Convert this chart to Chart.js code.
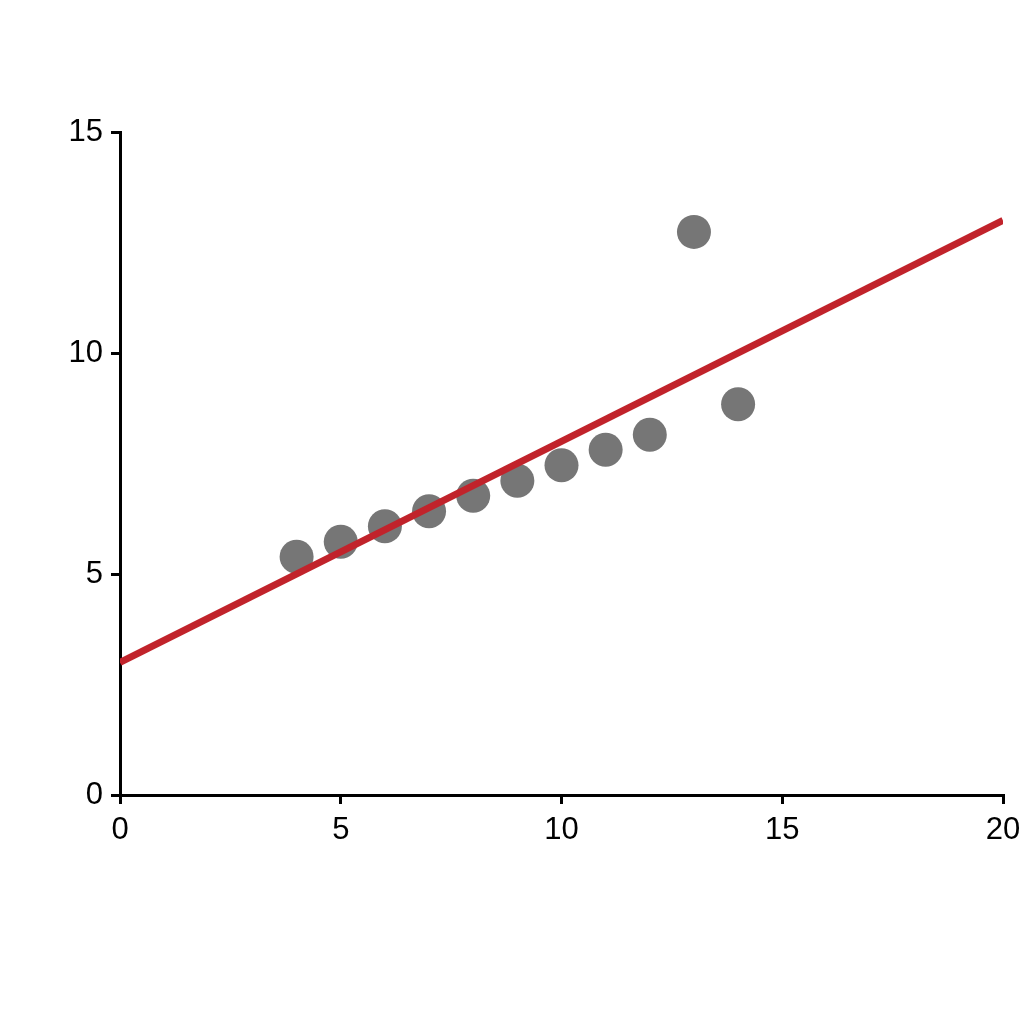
<!DOCTYPE html>
<html>
<head>
<meta charset="utf-8">
<script src="https://cdn.jsdelivr.net/npm/chart.js@4.4.1/dist/chart.umd.min.js"></script>
<style>
  html, body { margin: 0; padding: 0; background: #fff; }
  #chart { display: block; }
</style>
</head>
<body>
<canvas id="chart" width="1024" height="1024"></canvas>
<script>
// data points
const pointX = [4, 5, 6, 7, 8, 9, 10, 11, 12, 13, 14];
const pointY = [5.39, 5.73, 6.08, 6.42, 6.77, 7.11, 7.46, 7.81, 8.15, 12.74, 8.84];

// fitted line end points
const lineX = [0, 20];
const lineY = [3, 13];

const xTicks = [0, 5, 10, 15, 20];
const yTicks = [0, 5, 10, 15];

const ctx = document.getElementById('chart').getContext('2d');

const axisStyle = {
    grid: {
        drawOnChartArea: false,
        drawTicks: true,
        tickLength: 9,
        color: '#000',
        lineWidth: 3
    },
    border: { color: '#000', width: 3 },
    ticks: {
        color: '#000',
        font: { family: 'Liberation Sans, Arial, sans-serif', size: 31 },
        padding: 8
    }
};

new Chart(ctx, {
    type: 'scatter',
    data: {
        datasets: [
            {
                type: 'line',
                data: lineX.map((x, i) => ({ x: x, y: lineY[i] })),
                borderColor: '#c1232b',
                borderWidth: 7,
                pointRadius: 0,
                fill: false,
                order: 0
            },
            {
                data: pointX.map((x, i) => ({ x: x, y: pointY[i] })),
                backgroundColor: '#767676',
                borderWidth: 0,
                pointRadius: 17,
                order: 1
            }
        ]
    },
    options: {
        responsive: false,
        animation: false,
        layout: { padding: { left: 0, top: 132, right: 21, bottom: 0 } },
        plugins: {
            legend: { display: false },
            tooltip: { enabled: false }
        },
        scales: {
            x: {
                type: 'linear',
                min: 0,
                max: 20,
                ...axisStyle,
                afterBuildTicks: function(axis) {
                    axis.ticks = xTicks.map(v => ({ value: v }));
                },
                afterFit: function(axis) {
                    axis.height = 1024 - 795;
                    axis.paddingLeft = 0;
                    axis.paddingRight = 0;
                }
            },
            y: {
                type: 'linear',
                min: 0,
                max: 15,
                ...axisStyle,
                afterBuildTicks: function(axis) {
                    axis.ticks = yTicks.map(v => ({ value: v }));
                },
                afterFit: function(axis) {
                    axis.width = 120;
                    axis.paddingTop = 0;
                    axis.paddingBottom = 0;
                }
            }
        }
    }
});
</script>
</body>
</html>
